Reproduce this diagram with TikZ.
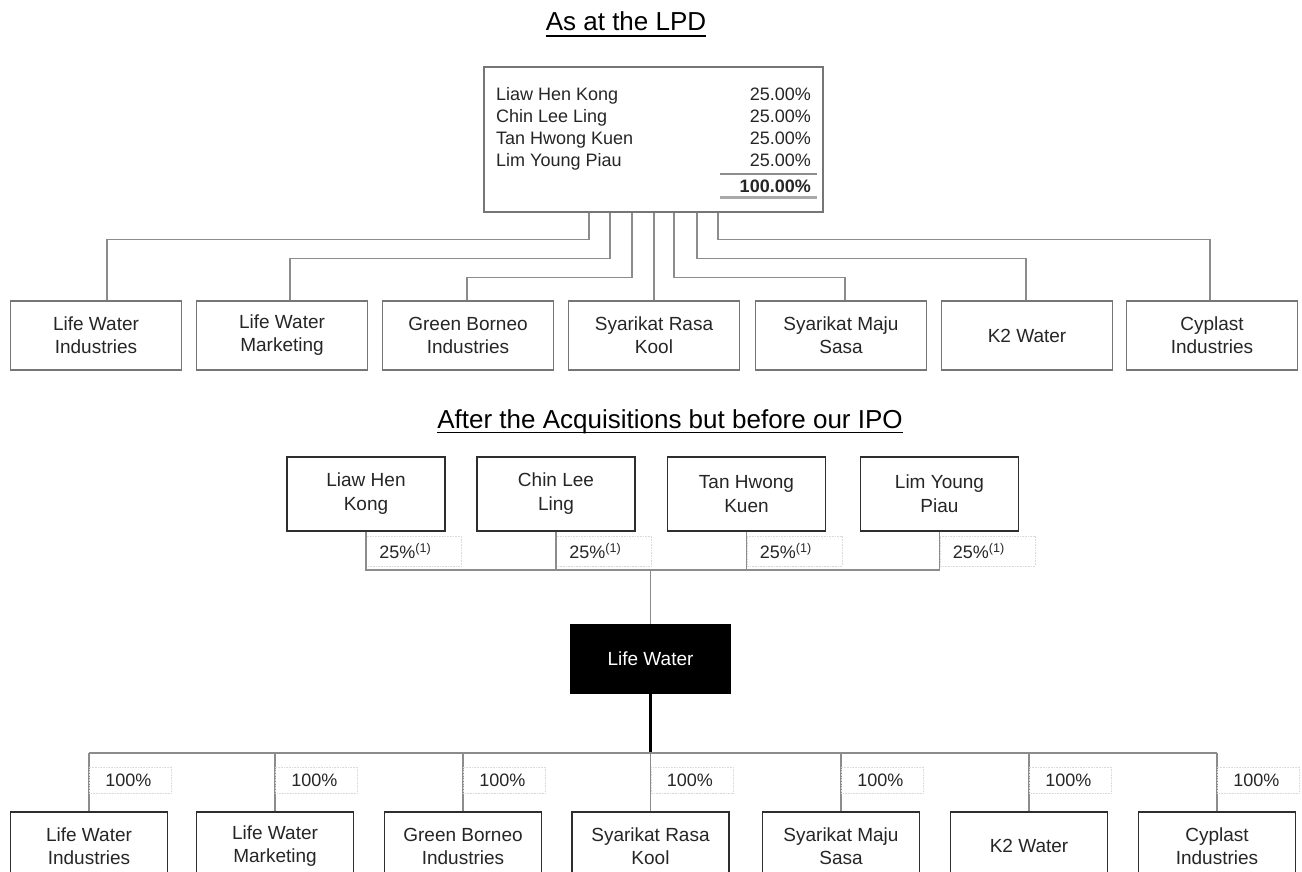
\documentclass[tikz,border=0pt]{standalone}
\usepackage{fontspec}
\setmainfont{Liberation Sans}
\usetikzlibrary{calc}
\definecolor{lineg}{HTML}{8C8C8C}
\definecolor{boxg}{HTML}{767676}
\definecolor{dark}{HTML}{2E2E2E}
\definecolor{txt}{HTML}{262626}
\definecolor{faint}{HTML}{DADADA}
\begin{document}
\begin{tikzpicture}[x=1pt,y=-1pt,
  conn/.style={draw=lineg, line width=1.1pt},
  title/.style={anchor=base, inner sep=0pt, font=\fontsize{26}{30}\selectfont, text=black},
  uline/.style={draw=black, line width=1.5pt},
  topbox/.style={draw=boxg, line width=1.2pt, minimum width=339pt, minimum height=145pt, inner sep=0pt},
  toptxt/.style={inner sep=0pt, font=\fontsize{18}{22}\selectfont, text=txt},
  rowa/.style={draw=boxg, line width=1.2pt, minimum width=171pt, minimum height=69pt, inner sep=0pt, align=center, font=\fontsize{19}{23}\selectfont, text=txt},
  sharebox/.style={draw=dark, line width=1.5pt, minimum width=158pt, minimum height=74pt, inner sep=0pt, align=center, font=\fontsize{19}{24}\selectfont, text=txt},
  lwbox/.style={draw=black, fill=black, line width=1.2pt, minimum width=159pt, minimum height=68pt, inner sep=0pt, font=\fontsize{19}{23}\selectfont, text=white},
  rowb/.style={draw=dark, line width=1.5pt, minimum width=157pt, minimum height=68pt, inner sep=0pt, align=center, font=\fontsize{19}{23}\selectfont, text=txt},
  pct/.style={anchor=west, draw=faint, densely dotted, line width=0.6pt, inner xsep=13pt, inner ysep=0pt, minimum height=30pt, text width=69pt, align=left, font=\fontsize{18}{20}\selectfont, text=txt},
  pctb/.style={anchor=west, draw=faint, densely dotted, line width=0.6pt, inner xsep=16pt, inner ysep=0pt, minimum height=26pt, text width=50pt, align=left, font=\fontsize{18}{20}\selectfont, text=txt}
]
\useasboundingbox (0,0) rectangle (1302,872);
\fill[white] (0,0) rectangle (1302,872);
\clip (0,0) rectangle (1302,872);

% ---------- Section 1 ----------
\node[title] (t1) at (626,31) {As at the LPD};
\draw[uline] ([yshift=-5pt]t1.base west) -- ([yshift=-5pt]t1.base east);

\node[topbox] (top) at (653.5,139.5) {};
\node[toptxt, anchor=base west] (n1) at (496,100.5) {Liaw Hen Kong};
\node[toptxt, anchor=base west] (n2) at (496,122.5) {Chin Lee Ling};
\node[toptxt, anchor=base west] (n3) at (496,144.5) {Tan Hwong Kuen};
\node[toptxt, anchor=base west] (n4) at (496,166.5) {Lim Young Piau};
\node[toptxt, anchor=base east] (p1) at (811,100.5) {25.00\%};
\node[toptxt, anchor=base east] (p2) at (811,122.5) {25.00\%};
\node[toptxt, anchor=base east] (p3) at (811,144.5) {25.00\%};
\node[toptxt, anchor=base east] (p4) at (811,166.5) {25.00\%};
\node[toptxt, anchor=base east, font=\fontsize{18}{22}\selectfont\bfseries] (ptot) at (811,193) {100.00\%};
\draw[lineg, line width=1.1pt] (720,174) -- (817,174);
\draw[lineg!75, line width=2.4pt] (720,197.5) -- (817,197.5);

\node[rowa] (r1) at (96,335.5) {Life Water\\Industries};
\node[rowa] (r2) at (282,335.5) {Life Water\\Marketing};
\node[rowa] (r3) at (468,335.5) {Green Borneo\\Industries};
\node[rowa] (r4) at (654,335.5) {Syarikat Rasa\\Kool};
\node[rowa] (r5) at (841,335.5) {Syarikat Maju\\Sasa};
\node[rowa] (r6) at (1027,335.5) {K2 Water};
\node[rowa] (r7) at (1212,335.5) {Cyplast\\Industries};

\draw[conn] ([xshift=-64.5pt]top.south) -- ++(0,27) -| ([xshift=11pt]r1.north);
\draw[conn] ([xshift=-43.5pt]top.south) -- ++(0,46) -| ([xshift=8pt]r2.north);
\draw[conn] ([xshift=-21.5pt]top.south) -- ++(0,65) -| ([xshift=-1pt]r3.north);
\draw[conn] (r4.north |- top.south) -- (r4.north);
\draw[conn] ([xshift=20.5pt]top.south) -- ++(0,65) -| ([xshift=4pt]r5.north);
\draw[conn] ([xshift=43.5pt]top.south) -- ++(0,46) -| ([xshift=-1pt]r6.north);
\draw[conn] ([xshift=64.5pt]top.south) -- ++(0,27) -| ([xshift=-2pt]r7.north);

% ---------- Section 2 ----------
\node[title] (t2) at (670,428) {After the Acquisitions but before our IPO};
\draw[uline] ([yshift=-4.5pt]t2.base west) -- ([yshift=-4.5pt]t2.base east);

\node[sharebox] (s1) at (366,494) {Liaw Hen\\Kong};
\node[sharebox] (s2) at (556,494) {Chin Lee\\Ling};
\node[sharebox] (s3) at (746.5,494) {Tan Hwong\\Kuen};
\node[sharebox] (s4) at (939.5,494) {Lim Young\\Piau};

\node[lwbox] (lw) at (650.5,659) {Life Water};
\coordinate (hj) at (lw.north |- 0,570);

\node[pct] (l1) at (s1.south |- 0,551) {25\%\textsuperscript{(1)}};
\node[pct] (l2) at (s2.south |- 0,551) {25\%\textsuperscript{(1)}};
\node[pct] (l3) at (s3.south |- 0,551) {25\%\textsuperscript{(1)}};
\node[pct] (l4) at (s4.south |- 0,551) {25\%\textsuperscript{(1)}};

\draw[conn] (s1.south) |- (hj) -| (s4.south);
\draw[conn] (s2.south) -- (s2.south |- hj);
\draw[conn] (s3.south) -- (s3.south |- hj);
\draw[conn] (hj) -- (lw.north);

\node[rowb] (b1) at (89,846) {Life Water\\Industries};
\node[rowb] (b2) at (275,846) {Life Water\\Marketing};
\node[rowb] (b3) at (463,846) {Green Borneo\\Industries};
\node[rowb] (b4) at (650.5,846) {Syarikat Rasa\\Kool};
\node[rowb] (b5) at (841,846) {Syarikat Maju\\Sasa};
\node[rowb] (b6) at (1029,846) {K2 Water};
\node[rowb] (b7) at (1217,846) {Cyplast\\Industries};

\coordinate (hb) at (lw.south |- 0,753);
\draw[black, line width=2.2pt] (lw.south) -- (hb);
\draw[conn] (b1.north |- hb) -- (b7.north |- hb);
\foreach \i in {1,...,7}{
  \draw[conn] (b\i.north |- hb) -- (b\i.north);
  \node[pctb] (c\i) at (b\i.north |- 0,780) {100\%};
}
\end{tikzpicture}
\end{document}
